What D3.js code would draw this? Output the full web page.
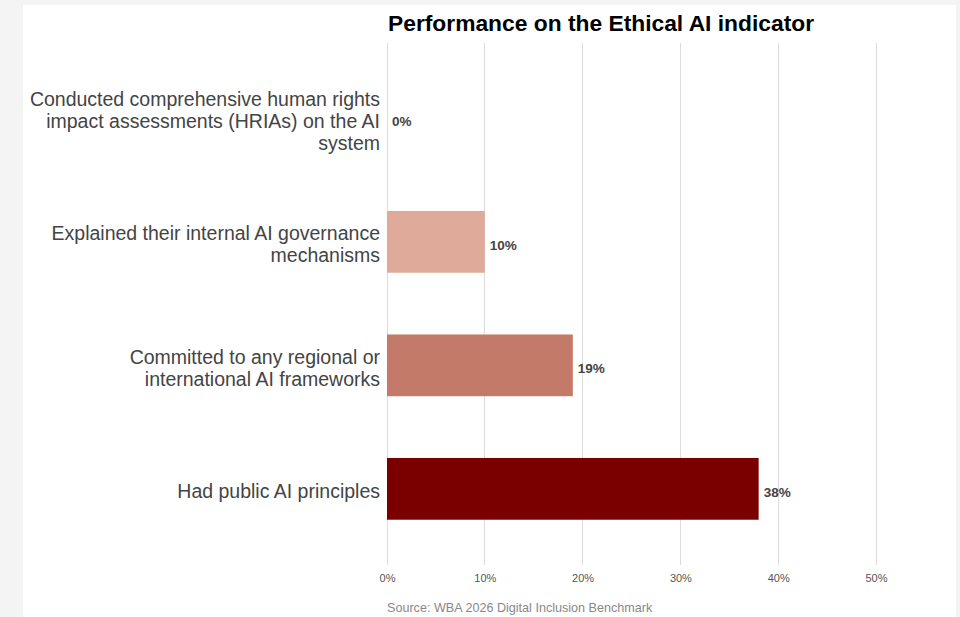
<!DOCTYPE html>
<html>
<head>
<meta charset="utf-8">
<script src="https://cdn.jsdelivr.net/npm/d3@7/dist/d3.min.js"></script>
<style>
  html, body { margin: 0; padding: 0; background: #f4f4f4; }
  svg { display: block; font-family: "Liberation Sans", Arial, sans-serif; }
</style>
</head>
<body>
<svg id="chart" width="960" height="617"></svg>
<script>
// Indicator measures, wrapped into display lines
const categories = [
  "Conducted comprehensive human rights|impact assessments (HRIAs) on the AI|system",
  "Explained their internal AI governance|mechanisms",
  "Committed to any regional or|international AI frameworks",
  "Had public AI principles"
];
const values = [0, 10, 19, 38];
const barColors = ["#f0d3c9", "#e0aa9b", "#c47a68", "#7a0000"];
const tickValues = [0, 10, 20, 30, 40, 50];

const svg = d3.select("#chart");

// white card
svg.append("rect")
  .attr("x", 23).attr("y", 5)
  .attr("width", 933).attr("height", 612)
  .attr("fill", "#ffffff");

const x = d3.scaleLinear().domain([0, 50]).range([387, 876]);
const y = d3.scaleBand()
  .domain(categories)
  .range([56.6, 550.6])
  .paddingInner(0.5)
  .paddingOuter(0.25);

// vertical gridlines
svg.append("g")
  .selectAll("line")
  .data(tickValues)
  .join("line")
  .attr("x1", d => x(d)).attr("x2", d => x(d))
  .attr("y1", 43).attr("y2", 565)
  .attr("stroke", "#dcdcdc")
  .attr("stroke-width", 1)
  .attr("shape-rendering", "crispEdges");

// x axis tick labels
const xAxis = d3.axisBottom(x)
  .tickValues(tickValues)
  .tickFormat(d => d + "%")
  .tickSize(0)
  .tickPadding(0);
const gx = svg.append("g")
  .attr("transform", "translate(0,574)")
  .call(xAxis);
gx.select(".domain").remove();
gx.selectAll("text")
  .attr("font-size", 11)
  .attr("fill", "#555")
  .attr("font-family", "'Liberation Sans', Arial, sans-serif");

// bars
svg.append("g")
  .selectAll("rect")
  .data(categories)
  .join("rect")
  .attr("x", x(0))
  .attr("y", d => y(d))
  .attr("width", (d, i) => x(values[i]) - x(0))
  .attr("height", y.bandwidth())
  .attr("fill", (d, i) => barColors[i]);

// value labels
svg.append("g")
  .selectAll("text")
  .data(categories)
  .join("text")
  .attr("x", (d, i) => x(values[i]) + 5)
  .attr("y", d => y(d) + y.bandwidth() / 2 + 3)
  .attr("dy", "0.35em")
  .attr("font-size", 13.5)
  .attr("font-weight", "bold")
  .attr("fill", "#444")
  .text((d, i) => values[i] + "%");

// category labels
const lineHeight = 22;
const catLabels = svg.append("g")
  .selectAll("text")
  .data(categories)
  .join("text")
  .attr("text-anchor", "end")
  .attr("font-size", 19.5)
  .attr("fill", "#444")
  .attr("y", d => y(d) + y.bandwidth() / 2);
catLabels.each(function(d) {
  const lines = d.split("|");
  const t = d3.select(this);
  const offset = -(lines.length - 1) / 2 * lineHeight;
  lines.forEach((ln, j) => {
    t.append("tspan")
      .attr("x", 380)
      .attr("dy", j === 0 ? (offset + 9.5) : lineHeight)
      .text(ln);
  });
});

// title
svg.append("text")
  .attr("x", 388).attr("y", 31)
  .attr("font-size", 22.8)
  .attr("font-weight", "bold")
  .attr("fill", "#000")
  .text("Performance on the Ethical AI indicator");

// source note
svg.append("text")
  .attr("x", 387).attr("y", 612)
  .attr("font-size", 12.6)
  .attr("fill", "#888")
  .text("Source: WBA 2026 Digital Inclusion Benchmark");
</script>
</body>
</html>
